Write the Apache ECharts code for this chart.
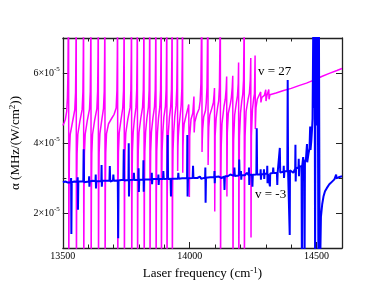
<!DOCTYPE html>
<html><head><meta charset="utf-8">
<script src="https://cdn.jsdelivr.net/npm/echarts@6/dist/echarts.min.js"></script>
<style>html,body{margin:0;padding:0;background:#fff}#c{width:385px;height:293px}</style>
</head><body><div id="c"></div>
<script>
// tick positions
const xMajorTicks = [13500, 14000, 14500];
const xMinorTicks = [13600, 13700, 13800, 13900, 14100, 14200, 14300, 14400];
const yMajorTicks = [2, 4, 6];   // in units of 1e-5
const yMinorTicks = [3, 5];
const seriesNames = ['v = 27', 'v = -3'];

// alpha (units of 1e-5 MHz/(W/cm^2)) vs laser frequency (cm^-1), v = 27
const alphaV27 = [
[13500,4.5],[13505,4.58],[13510,4.68],[13515,4.9],[13518,5.3],[13520,6.0],[13521.5,7.5],[13522.6,8],
[13523.4,0],[13524.5,2.6],[13526,3.7],[13529,4.25],[13538,4.6],
[13547,4.95],[13550,5.45],[13551.5,6.5],[13552.6,8],
[13553.4,0],[13554.5,2.6],[13556,3.7],[13559,4.25],[13567,4.62],
[13576,4.96],[13579,5.46],[13580.5,6.5],[13581.6,8],
[13582.4,0],[13583.5,2.6],[13585,3.7],[13588,4.25],[13596,4.63],
[13605,4.97],[13608,5.47],[13609.5,6.5],[13610.6,8],
[13611.4,0],[13612.5,2.6],[13614,3.7],[13617,4.25],[13625,4.64],
[13634,4.98],[13637,5.48],[13638.5,6.5],[13639.6,8],
[13640.4,0],[13641.5,2.6],[13643,3.72],[13646,4.27],[13653,4.64],
[13660,4.98],[13663,5.48],[13664.5,6.5],[13665.6,8],
[13666.4,0],[13667.5,2.6],[13669,3.72],[13672,4.27],[13680,4.55],[13692,4.7],[13702,4.82],
[13710,5.0],[13713,5.5],[13714.5,6.5],[13715.6,8],
[13716.4,0],[13717.5,2.6],[13719,3.74],[13722,4.29],[13729,4.66],
[13736,5.0],[13739,5.5],[13740.5,6.5],[13741.6,8],
[13742.4,0],[13743.5,2.6],[13745,3.74],[13748,4.29],[13756,4.68],
[13765,5.01],[13768,5.51],[13769.5,6.5],[13770.6,8],
[13771.4,0],[13772.5,2.6],[13774,3.75],[13777,4.3],[13782,4.68],
[13788,5.01],[13791,5.51],[13792.5,6.5],[13793.6,8],
[13794.4,0],[13795.5,2.6],[13797,3.75],[13800,4.3],[13807,4.7],
[13814,5.02],[13817,5.52],[13818.5,6.5],[13819.6,8],
[13820.4,0],[13821.5,2.6],[13823,3.76],[13826,4.31],[13831,4.7],
[13837,5.02],[13840,5.52],[13841.5,6.5],[13842.6,8],
[13843.4,0],[13844.5,2.6],[13846,3.76],[13849,4.31],[13855,4.72],
[13861,5.03],[13864,5.53],[13865.5,6.5],[13866.6,8],
[13867.4,0],[13868.5,2.6],[13870,3.77],[13873,4.32],[13877,4.72],
[13882,5.03],[13885,5.53],[13886.5,6.5],[13887.6,8],
[13888.4,0],[13889.5,2.6],[13891,3.77],[13894,4.32],[13898,4.74],
[13904,5.04],[13907,5.54],[13908.5,6.5],[13909.6,8],
[13910.4,0],[13911.5,2.6],[13913,3.78],[13916,4.33],[13920,4.74],
[13925,5.04],[13928,5.54],[13929.5,6.5],[13930.6,8],
[13931.4,0],[13932.5,2.6],[13934,3.78],[13937,4.33],[13941,4.76],
[13946,5.06],[13949,5.56],[13950.5,6.5],[13951.6,8],
[13952.4,3.2],[13953.5,3.9],[13955,4.2],[13958,4.5],[13962,4.77],
[13966,5.07],[13969,5.57],[13970.5,6.5],[13971.6,8],
[13972.4,3.15],[13973.5,3.9],[13975,4.25],[13978,4.55],[13986,4.8],
[13993,5.0],[13996,5.1],[13997.5,5.1],[13998.5,2.46],[14000,4.2],[14005,4.68],
[14012,4.85],[14016.5,5.33],[14017.5,4.3],[14020,4.6],[14028,4.82],
[14037,4.98],[14041,5.2],[14044,5.7],[14045.5,6.7],[14047.6,8],
[14048.4,3.74],[14049.5,4.1],[14051,4.4],[14055,4.75],[14062,4.93],
[14065,5.15],[14068,5.6],[14069.5,6.6],[14071.6,8],
[14072.4,3.37],[14073.5,4.0],[14075,4.45],[14079,4.8],[14087,4.99],
[14093,5.15],[14096,5.4],[14097.5,5.57],[14098.5,2.04],[14100,4.2],[14104,4.7],[14110,5.03],
[14114,5.2],[14117,5.6],[14118.5,6.6],[14120.6,8],
[14121.4,0],[14122.5,2.8],[14124,3.9],[14127,4.55],[14135,5.05],
[14140,5.25],[14143.5,5.55],[14145.5,5.9],[14146.5,2.47],[14148,4.3],[14152,4.85],[14160,5.12],
[14164,5.3],[14167.5,5.6],[14169.5,5.92],[14170.5,0],[14171.5,3.0],[14173,4.1],[14177,4.8],[14184,5.17],
[14188,5.35],[14191,5.7],[14192.5,6.3],[14193.5,0],[14194.5,3.0],[14196,4.2],[14200,4.85],[14205,5.2],
[14209,5.4],[14212,5.8],[14213.5,6.8],[14214.6,8],
[14215.4,0],[14216.5,3.0],[14218,4.2],[14222,4.9],[14230,5.25],
[14235,5.42],[14238.5,5.8],[14240.5,6.43],[14241.5,1.3],[14243,4.2],[14247,4.95],[14252,5.28],
[14255,5.4],[14257.5,6.5],[14258.5,4.4],[14261,5.0],[14266,5.25],
[14272,5.3],[14279.5,5.46],[14280.5,5.16],[14284,5.3],
[14294,5.36],[14299.5,5.52],[14300.5,5.2],[14304,5.35],
[14308,5.38],[14311.5,5.53],[14312.5,5.25],[14316,5.38],
[14340,5.43],[14370,5.5],[14400,5.56],[14430,5.64],[14460,5.71],[14494,5.81],
[14520,5.9],[14550,5.99],[14580,6.07],[14600,6.13]
];

// v = -3
const alphaVm3 = [
[13500,2.88],[13510,2.9],[13520,2.87],
[13531,2.88],[13532.5,3.0],[13533.5,1.4],[13535,2.88],
[13545,2.9],
[13557,2.89],[13558.5,3.02],[13559.5,2.09],[13561,2.9],
[13570,2.9],
[13580.5,2.9],[13582,3.82],[13583.5,2.88],
[13602.5,2.9],[13603.5,3.05],[13604.5,2.75],[13606,2.9],
[13618,2.92],
[13628.5,2.91],[13629.5,3.1],[13630.5,2.7],[13632,2.91],
[13651.5,2.91],[13652.5,3.37],[13653.5,2.75],[13655,2.92],
[13668,2.92],
[13683.5,2.92],[13685,3.34],[13686.5,2.9],
[13697.5,2.93],[13699,3.1],[13700.5,2.92],
[13716.5,2.93],[13718,1.28],[13719.5,2.93],
[13730,2.94],
[13738.5,2.94],[13740,3.82],[13741.5,2.93],
[13758.5,2.94],[13759.5,3.99],[13760.5,2.47],[13762,2.94],
[13778.5,2.95],[13780,3.15],[13781.5,2.94],
[13797.5,2.95],[13798.5,3.28],[13799.5,2.6],[13801,2.95],
[13816.5,2.96],[13817.5,3.51],[13818.5,2.61],[13820,2.96],
[13835,2.96],
[13849.5,2.96],[13850.5,3.15],[13851.5,2.82],[13853,2.97],
[13875.5,2.97],[13876.5,3.1],[13877.5,2.8],[13879,2.97],
[13894.5,2.97],[13896,3.2],[13897.5,2.97],
[13911.5,2.98],[13913,4.23],[13914.5,2.97],
[13924.5,2.98],[13926,2.47],[13927.5,2.98],
[13940,2.98],
[13953.5,2.98],[13955,3.15],[13956.5,2.98],
[13970,2.99],
[13989.5,2.99],[13990.5,4.23],[13991.5,2.47],[13993,2.99],
[14011.5,3.0],[14013,3.35],[14014.5,3.0],
[14030,3.0],[14040,3.04],[14045,2.98],
[14060.5,3.01],[14061.5,3.3],[14062.5,2.29],[14064,3.01],
[14080,3.02],
[14096.5,3.03],[14097.5,3.2],[14098.5,2.85],[14100,3.03],
[14115,3.04],[14125,3.0],
[14135.5,3.04],[14137,2.66],[14138.5,3.05],
[14150,3.05],[14160,3.1],
[14174.5,3.06],[14176,3.3],[14177.5,3.06],
[14193.5,3.07],[14195,3.53],[14196.5,3.07],
[14201,3.07],[14202,3.2],[14203,2.95],[14204,3.08],
[14218,3.08],[14225,3.15],
[14232.5,3.08],[14233.5,3.3],[14234.5,2.8],[14236,3.09],
[14245.5,3.09],[14247,2.75],[14248.5,3.09],
[14255,3.12],
[14262.5,3.1],[14264,4.42],[14265.5,3.1],
[14278.5,3.1],[14279.5,3.25],[14280.5,2.95],[14282,3.11],
[14291.5,3.11],[14292.5,3.25],[14293.5,2.97],[14295,3.12],
[14304.5,3.12],[14305.5,3.35],[14306.5,2.85],[14308,3.12],
[14315,3.13],[14316,2.76],[14317,3.13],
[14327.5,3.14],[14329,3.3],[14330.5,3.14],
[14343.5,3.15],[14345,2.8],[14346.5,3.16],
[14353.5,3.16],[14355,3.86],[14356.5,3.16],
[14369.5,3.18],[14370.5,3.35],[14371.5,3.0],[14373,3.19],
[14384.5,3.2],[14386,5.8],[14387.5,3.2],
[14393,3.22],[14394,1.37],[14395,3.22],
[14402,3.25],[14408,3.15],
[14415.5,3.27],[14416.5,3.95],[14417.5,2.9],[14419,3.28],
[14428.5,3.3],[14429.5,3.55],[14430.5,3.05],[14432,3.32],
[14440.5,3.34],[14442,0.4],[14443.5,3.36],
[14447,3.6],[14449,3.2],
[14451,3.42],[14452.5,0.4],[14454,3.46],
[14458,3.55],
[14461,3.6],[14462,3.97],[14463,3.45],
[14468,3.7],[14472,3.85],
[14474.5,4.47],[14476,3.8],
[14479,4.05],[14482,4.4],
[14484,4.7],[14487,7.6],[14490,5.0],[14492,7.6],[14494,0.4],[14496,7.6],[14499,4.5],[14501,6.0],
[14504,7.6],[14507,0.4],[14509,7.6],[14512,0.4],[14515,1.0],
[14517,1.89],[14522,2.25],[14527,2.47],[14533,2.62],[14540,2.71],[14550,2.82],[14560,2.89],
[14570,2.96],[14576,2.98],[14577,3.1],[14578,2.99],[14590,3.03],[14600,3.05]
];

const FONT = 'Liberation Serif';
const AXIS_COLOR = '#222';
const X_MIN = 13500, X_MAX = 14600, Y_MIN = 1, Y_MAX = 7;

function xAx(pos, ticks, len, labels, line) {
  return {
    type: 'value', position: pos, min: X_MIN, max: X_MAX,
    axisLine: {show: line, lineStyle: {color: AXIS_COLOR, width: 1.3}},
    axisTick: {show: true, inside: true, length: len, customValues: ticks, lineStyle: {color: AXIS_COLOR, width: 1}},
    axisLabel: labels ? {show: true, customValues: ticks, margin: 3, fontFamily: FONT, fontSize: 10, color: '#000',
      formatter: v => String(v)} : {show: false},
    splitLine: {show: false}
  };
}
function yAx(pos, ticks, len, labels, line) {
  return {
    type: 'value', position: pos, min: Y_MIN, max: Y_MAX,
    axisLine: {show: line, lineStyle: {color: AXIS_COLOR, width: 1.3}},
    axisTick: {show: true, inside: true, length: len, customValues: ticks, lineStyle: {color: AXIS_COLOR, width: 1}},
    axisLabel: labels ? {
      show: true, customValues: ticks, margin: 3, color: '#000',
      formatter: v => '{a|' + v + '×10}{b|-5}',
      rich: {a: {fontFamily: FONT, fontSize: 10, lineHeight: 14}, b: {fontFamily: FONT, fontSize: 7, verticalAlign: 'top', lineHeight: 8}}
    } : {show: false},
    splitLine: {show: false}
  };
}

const xAxes = [xAx('bottom', xMajorTicks, 6, true, true), xAx('bottom', xMinorTicks, 3.5, false, false),
               xAx('top', xMajorTicks, 6, false, true), xAx('top', xMinorTicks, 3.5, false, false)];
xAxes[0].name = '{a|Laser frequency (cm}{b|-1}{a|)}';
xAxes[0].nameLocation = 'middle';
xAxes[0].nameGap = 13;
xAxes[0].nameTextStyle = {color: '#000', rich: {a: {fontFamily: FONT, fontSize: 13, lineHeight: 16}, b: {fontFamily: FONT, fontSize: 9, verticalAlign: 'top', lineHeight: 9}}};

const yAxes = [yAx('left', yMajorTicks, 6, true, true), yAx('left', yMinorTicks, 3.5, false, false),
               yAx('right', yMajorTicks, 6, false, true), yAx('right', yMinorTicks, 3.5, false, false)];
yAxes[0].name = '{a|α (MHz/(W/cm}{b|2}{a|))}';
yAxes[0].nameLocation = 'middle';
yAxes[0].nameGap = 22;
yAxes[0].nameRotate = 90;
yAxes[0].nameTextStyle = {color: '#000', rich: {a: {fontFamily: FONT, fontSize: 13, lineHeight: 16}, b: {fontFamily: FONT, fontSize: 9, verticalAlign: 'top', lineHeight: 9}}};

const chart = echarts.init(document.getElementById('c'), null, {renderer: 'canvas'});
chart.setOption({
  animation: false,
  backgroundColor: '#fff',
  grid: {left: 60, right: 43, top: 38, bottom: 45, containLabel: false},
  xAxis: xAxes,
  yAxis: yAxes,
  series: [
    {name: seriesNames[0], type: 'line', data: alphaV27, showSymbol: false, clip: true, z: 2,
     lineStyle: {color: '#ff00ff', width: 1.5}},
    {name: seriesNames[1], type: 'line', data: alphaVm3, showSymbol: false, clip: true, z: 3,
     lineStyle: {color: '#0000ff', width: 2}}
  ],
  graphic: [
    {type: 'text', left: 258, top: 65, style: {text: seriesNames[0], font: '13px "Liberation Serif"', fill: '#000'}},
    {type: 'text', left: 255, top: 188, style: {text: seriesNames[1], font: '13px "Liberation Serif"', fill: '#000'}}
  ]
});
</script></body></html>
